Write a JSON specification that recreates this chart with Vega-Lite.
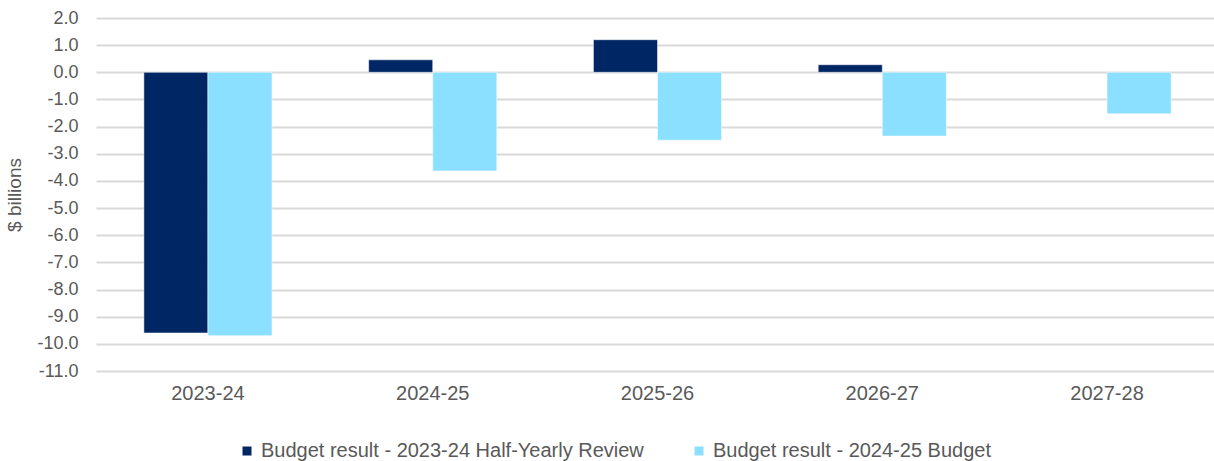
{
  "$schema": "https://vega.github.io/schema/vega-lite/v6.json",
  "width": 1118,
  "height": 353,
  "autosize": {"type": "none"},
  "padding": {"left": 96, "top": 18, "right": 0, "bottom": 90},
  "background": "white",
  "config": {
    "font": "Liberation Sans",
    "view": {"stroke": null},
    "axis": {"labelColor": "#595959", "titleColor": "#595959", "labelFont": "Liberation Sans", "titleFont": "Liberation Sans"},
    "legend": {"labelFont": "Liberation Sans"}
  },
  "data": {
    "values": [
      {"year": "2023-24", "series": "Budget result - 2023-24 Half-Yearly Review", "value": -9.6},
      {"year": "2023-24", "series": "Budget result - 2024-25 Budget", "value": -9.7},
      {"year": "2024-25", "series": "Budget result - 2023-24 Half-Yearly Review", "value": 0.46},
      {"year": "2024-25", "series": "Budget result - 2024-25 Budget", "value": -3.63},
      {"year": "2025-26", "series": "Budget result - 2023-24 Half-Yearly Review", "value": 1.2},
      {"year": "2025-26", "series": "Budget result - 2024-25 Budget", "value": -2.5},
      {"year": "2026-27", "series": "Budget result - 2023-24 Half-Yearly Review", "value": 0.28},
      {"year": "2026-27", "series": "Budget result - 2024-25 Budget", "value": -2.35},
      {"year": "2027-28", "series": "Budget result - 2024-25 Budget", "value": -1.53}
    ]
  },
  "mark": {"type": "bar", "stroke": "white", "strokeWidth": 0.5},
  "encoding": {
    "x": {
      "field": "year", "type": "nominal", "title": null,
      "scale": {"paddingInner": 0.43, "paddingOuter": 0.213, "range": [0, 1123]},
      "axis": {"labelAngle": 0, "labelFontSize": 20, "labelPadding": 12, "ticks": false, "domain": false, "grid": false}
    },
    "xOffset": {"field": "series", "type": "nominal", "scale": {"paddingInner": 0, "paddingOuter": 0}},
    "y": {
      "field": "value", "type": "quantitative", "title": "$ billions",
      "scale": {"domain": [-11, 2], "nice": false},
      "axis": {
        "values": [-11, -10, -9, -8, -7, -6, -5, -4, -3, -2, -1, 0, 1, 2],
        "labelExpr": "replace(format(datum.value, '.1f'), '\u2212', '-')",
        "labelFontSize": 18, "labelPadding": 18, "ticks": false, "domain": false,
        "gridColor": "#d9d9d9", "gridWidth": 2, "titleFontSize": 19, "titleFontWeight": "normal", "titlePadding": 12
      }
    },
    "color": {
      "field": "series", "type": "nominal",
      "scale": {"domain": ["Budget result - 2023-24 Half-Yearly Review", "Budget result - 2024-25 Budget"], "range": ["#002664", "#8CE0FF"]},
      "legend": {
        "title": null, "orient": "none", "legendX": 141, "legendY": 423, "direction": "horizontal",
        "symbolType": "square", "symbolSize": 81, "symbolStrokeWidth": 0, "labelFontSize": 20, "labelColor": "#595959",
        "labelOffset": 4, "columnPadding": 45, "labelLimit": 500
      }
    }
  }
}
